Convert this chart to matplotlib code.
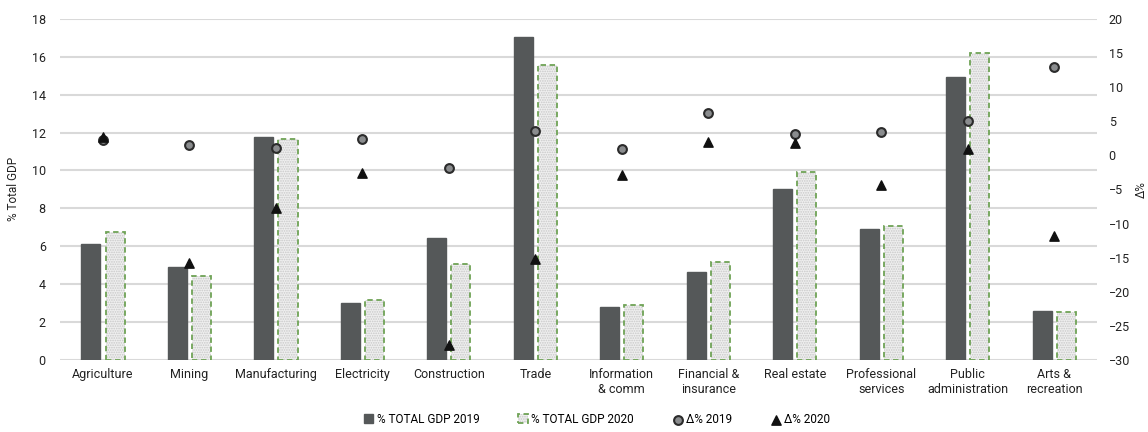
import matplotlib.pyplot as plt
import numpy as np

plt.rcParams['font.family'] = ['Roboto', 'DejaVu Sans']

sectors = ['Agriculture', 'Mining', 'Manufacturing', 'Electricity', 'Construction',
           'Trade', 'Information\n& comm', 'Financial &\ninsurance', 'Real estate',
           'Professional\nservices', 'Public\nadministration', 'Arts &\nrecreation']
gdp_2019 = [6.12, 4.91, 11.77, 3.0, 6.44, 17.05, 2.8, 4.65, 9.03, 6.92, 14.94, 2.59]
gdp_2020 = [6.76, 4.43, 11.67, 3.17, 5.07, 15.58, 2.9, 5.17, 9.93, 7.07, 16.2, 2.53]
chg_2019 = [2.3, 1.5, 1.1, 2.4, -1.9, 3.6, 0.9, 6.2, 3.1, 3.4, 5.0, 13.0]
chg_2020 = [2.7, -15.8, -7.7, -2.6, -27.8, -15.2, -2.9, 2.0, 1.8, -4.3, 0.9, -11.8]

plt.rcParams['hatch.linewidth'] = 0.8

fig = plt.figure(figsize=(11.48, 4.32), dpi=100)
ax = fig.add_axes([0.052, 0.167, 0.904, 0.789])
ax2 = ax.twinx()

x = np.arange(len(sectors))
w = 0.22
b19 = ax.bar(x - 0.14, gdp_2019, w, color='#555859', edgecolor='#555859', zorder=2)
# dotted fill first, then the dashed green outline on top
fill20 = ax.bar(x + 0.14, gdp_2020, w, facecolor='#efefef', edgecolor='#c8c8c8',
                linewidth=0, hatch='.......', zorder=2)
edge20 = ax.bar(x + 0.14, gdp_2020, w, facecolor='none', edgecolor='#6fa356',
                linestyle=(0, (3, 2)), linewidth=1.3, zorder=2)

c19 = ax2.scatter(x, chg_2019, s=40, marker='o', facecolor='#8a8c8e', edgecolor='#2b2b2b',
                  linewidth=1.5, zorder=3)
t20 = ax2.scatter(x, chg_2020, s=45, marker='^', color='#111111', zorder=4)

ax.set_xlim(-0.5, len(sectors) - 0.5)
ax.set_ylim(0, 18)
ax.set_yticks(np.arange(0, 19, 2))
ax2.set_ylim(-30, 20)
ax2.set_yticks(np.arange(-30, 21, 5))
ax.grid(axis='y', color='#d9d9d9', linewidth=1.5, zorder=0)
ax.set_axisbelow(True)
ax.set_xticks(x)
ax.set_xticklabels(sectors, fontsize=9, color='#222222')

for a in (ax, ax2):
    for s in a.spines.values():
        s.set_visible(False)
    a.tick_params(length=0, labelsize=9, colors='#222222')
ax.tick_params(axis='y', pad=10)
ax2.tick_params(axis='y', pad=8)
ax.tick_params(axis='x', pad=6)

ax.set_ylabel('% Total GDP', fontsize=8.5, color='#222222')
ax.yaxis.set_label_coords(-0.038, 0.5)
ax2.set_ylabel('Δ%', fontsize=8.5, color='#222222')
ax2.yaxis.set_label_coords(1.036, 0.5)

fig.legend([b19, (fill20, edge20), c19, t20],
           ['% TOTAL GDP 2019', '% TOTAL GDP 2020', 'Δ% 2019', 'Δ% 2020'],
           loc='lower center', ncol=4, frameon=False,
           fontsize=8.5, bbox_to_anchor=(0.52, -0.01), handlelength=0.8,
           handletextpad=0.3, columnspacing=3.3)

fig.savefig('out.png', dpi=100)
